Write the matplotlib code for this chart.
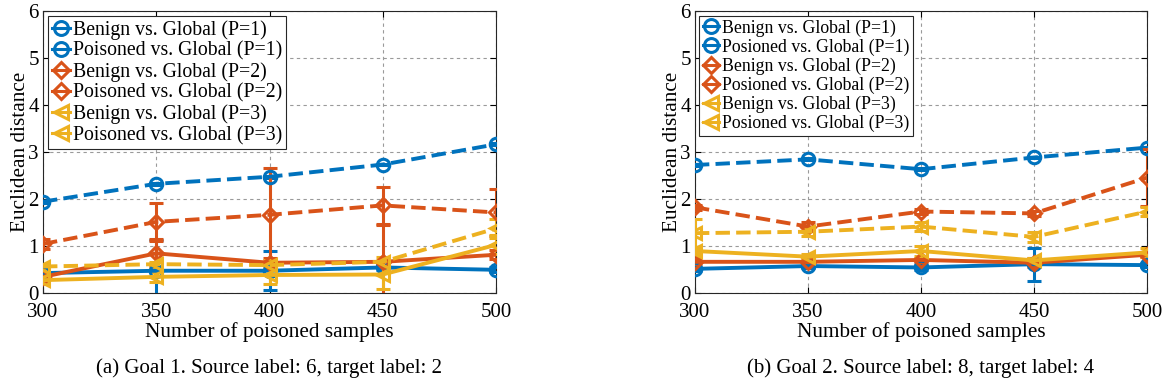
import matplotlib
matplotlib.use("Agg")

import matplotlib.pyplot as plt
from matplotlib.lines import Line2D

SAMPLES = [300, 350, 400, 450, 500]

LABELS_A = [
    "Benign vs. Global (P=1)", "Poisoned vs. Global (P=1)",
    "Benign vs. Global (P=2)", "Poisoned vs. Global (P=2)",
    "Benign vs. Global (P=3)", "Poisoned vs. Global (P=3)",
]
LABELS_B = [
    "Benign vs. Global (P=1)", "Posioned vs. Global (P=1)",
    "Benign vs. Global (P=2)", "Posioned vs. Global (P=2)",
    "Benign vs. Global (P=3)", "Posioned vs. Global (P=3)",
]

# (a) Goal 1
A_B1 = [0.43, 0.48, 0.48, 0.55, 0.50]
A_P1 = [1.95, 2.33, 2.48, 2.74, 3.17]
A_B2 = [0.35, 0.85, 0.65, 0.67, 0.82]
A_P2 = [1.05, 1.52, 1.67, 1.87, 1.72]
A_B3 = [0.28, 0.35, 0.39, 0.40, 1.03]
A_P3 = [0.57, 0.62, 0.60, 0.67, 1.38]
A_ERR = [
    [0.05, 0.65, 0.42, 0.05, 0.05],
    [0.02, 0.02, 0.02, 0.02, 0.02],
    [0.05, 0.30, 0.10, 0.78, 0.10],
    [0.10, 0.40, 1.00, 0.40, 0.50],
    [0.05, 0.10, 0.20, 0.30, 0.20],
    [0.05, 0.05, 0.10, 0.10, 0.20],
]

# (b) Goal 2
B_B1 = [0.52, 0.58, 0.55, 0.62, 0.60]
B_P1 = [2.73, 2.85, 2.64, 2.89, 3.10]
B_B2 = [0.67, 0.67, 0.71, 0.65, 0.82]
B_P2 = [1.83, 1.42, 1.74, 1.70, 2.46]
B_B3 = [0.90, 0.78, 0.90, 0.70, 0.87]
B_P3 = [1.28, 1.31, 1.42, 1.20, 1.74]
B_ERR = [
    [0.05, 0.05, 0.05, 0.35, 0.05],
    [0.02, 0.02, 0.02, 0.02, 0.02],
    [0.05, 0.05, 0.05, 0.10, 0.05],
    [0.05, 0.10, 0.05, 0.05, 0.60],
    [0.05, 0.05, 0.10, 0.05, 0.10],
    [0.30, 0.10, 0.10, 0.10, 0.10],
]

BLUE = "#0072BD"
ORANGE = "#D95319"
YELLOW = "#EDB120"

STYLES = [
    (BLUE, "o", "-"), (BLUE, "o", "--"),
    (ORANGE, "D", "-"), (ORANGE, "D", "--"),
    (YELLOW, "<", "-"), (YELLOW, "<", "--"),
]

plt.rcParams.update({
    "font.family": "Liberation Serif",
    "mathtext.fontset": "stix",
    "xtick.direction": "in",
    "ytick.direction": "in",
})


def marker_size(marker):
    return 7 if marker == "D" else 9


def draw_panel(ax, series, errors, labels, legend_size, spacing):
    handles = []
    for vals, err, lab, (color, marker, ls) in zip(series, errors, labels, STYLES):
        ax.errorbar(
            SAMPLES, vals, yerr=err,
            color=color, linestyle=ls, linewidth=2.8,
            marker=marker, markersize=marker_size(marker), markerfacecolor="none",
            markeredgewidth=2.2, capsize=5, capthick=2.2, elinewidth=2.2,
            zorder=3,
        )
        # legend icon: marker with a short bar through it, like the source
        handles.append(Line2D(
            [0], [0], color=color, linestyle="-", linewidth=2.2,
            marker=marker, markersize=marker_size(marker) + 1,
            markerfacecolor="none", markeredgewidth=2.2, label=lab,
        ))

    ax.set_xlim(300, 500)
    ax.set_ylim(0, 6)
    ax.set_xticks(SAMPLES)
    ax.set_yticks(range(0, 7))
    ax.grid(True, linestyle=(0, (3, 3)), color="#9a9a9a", linewidth=0.8)
    ax.tick_params(labelsize=15, length=4, top=True, right=True,
                   labeltop=False, labelright=False)
    ax.tick_params(axis="x", pad=7)
    ax.tick_params(axis="y", pad=3)
    for sp in ax.spines.values():
        sp.set_linewidth(0.8)
        sp.set_color("#262626")
    ax.set_xlabel("Number of poisoned samples", fontsize=15.3, labelpad=0)
    ax.set_ylabel("Euclidean distance", fontsize=15.3, labelpad=-1)

    leg = ax.legend(
        handles=handles, loc="upper left", bbox_to_anchor=(0.0, 1.0),
        fontsize=legend_size, frameon=True, fancybox=False,
        handlelength=0.9, handletextpad=0.15, borderpad=0.2,
        labelspacing=spacing, borderaxespad=0.25,
    )
    leg.get_frame().set_edgecolor("#262626")
    leg.get_frame().set_linewidth(0.8)
    leg.get_frame().set_alpha(1.0)


fig = plt.figure(figsize=(11.66, 3.87), dpi=100)
ax_a = fig.add_axes([0.0369, 0.2421, 0.3885, 0.7287])
ax_b = fig.add_axes([0.5960, 0.2421, 0.3877, 0.7287])

draw_panel(ax_a, [A_B1, A_P1, A_B2, A_P2, A_B3, A_P3], A_ERR, LABELS_A, 14.2, 0.08)
draw_panel(ax_b, [B_B1, B_P1, B_B2, B_P2, B_B3, B_P3], B_ERR, LABELS_B, 12.8, 0.1)

fig.text(0.2311, 0.049, "(a) Goal 1. Source label: 6, target label: 2",
         ha="center", va="center", fontsize=15)
fig.text(0.7898, 0.049, "(b) Goal 2. Source label: 8, target label: 4",
         ha="center", va="center", fontsize=15)

fig.savefig("out.png", dpi=100, facecolor="white")
